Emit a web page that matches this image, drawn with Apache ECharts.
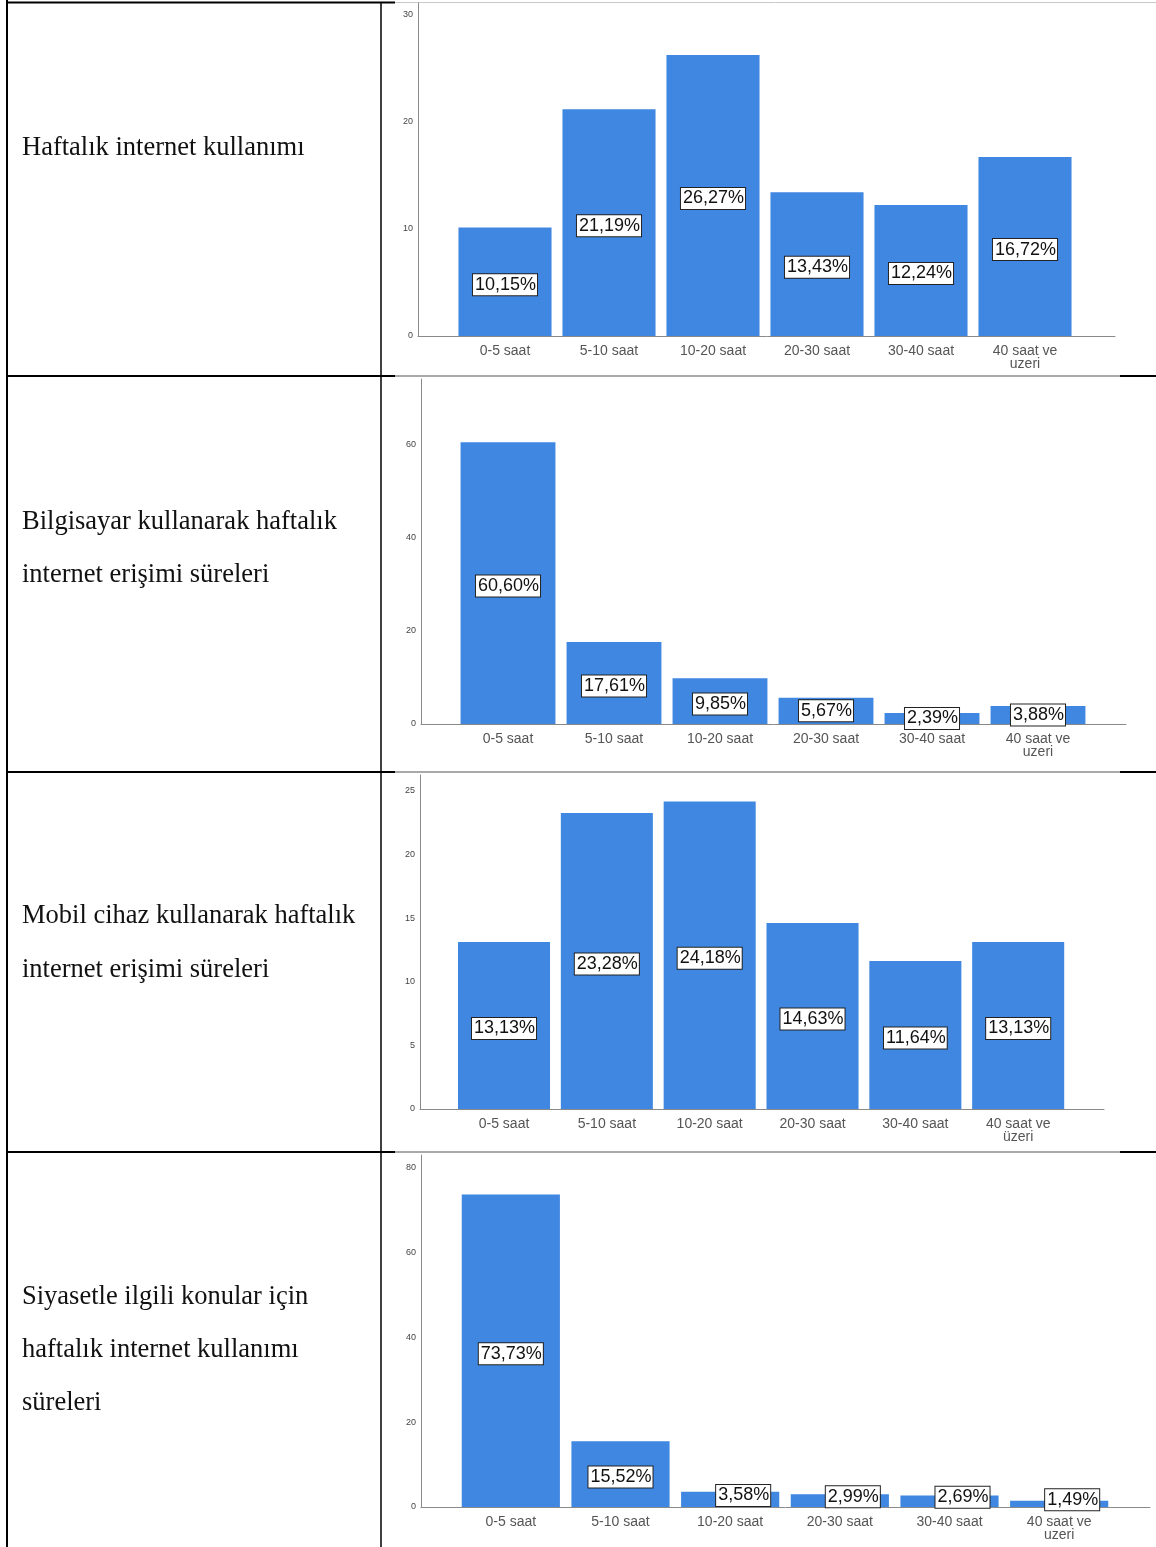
<!DOCTYPE html>
<html><head><meta charset="utf-8">
<script src="https://cdn.jsdelivr.net/npm/echarts@6/dist/echarts.min.js"></script>
<style>html,body{margin:0;padding:0;background:#fff}#c{width:1156px;height:1547px}</style>
</head><body><div id="c"></div>
<script>
// ---- data ----
const categoriesA = ['0-5 saat', '5-10 saat', '10-20 saat', '20-30 saat', '30-40 saat', '40 saat ve\nuzeri'];
const categoriesB = ['0-5 saat', '5-10 saat', '10-20 saat', '20-30 saat', '30-40 saat', '40 saat ve\nüzeri'];
const weeklyInternet = [10.15, 21.19, 26.27, 13.43, 12.24, 16.72];
const computerAccess = [60.60, 17.61, 9.85, 5.67, 2.39, 3.88];
const mobileAccess = [13.13, 23.28, 24.18, 14.63, 11.64, 13.13];
const politicsUse = [73.73, 15.52, 3.58, 2.99, 2.69, 1.49];
const yTicks1 = [0, 10, 20, 30];
const yTicks2 = [0, 20, 40, 60];
const yTicks3 = [0, 5, 10, 15, 20, 25];
const yTicks4 = [0, 20, 40, 60, 80];
const rowTitles = [
  ['Haftalık internet kullanımı'],
  ['Bilgisayar kullanarak haftalık', 'internet erişimi süreleri'],
  ['Mobil cihaz kullanarak haftalık', 'internet erişimi süreleri'],
  ['Siyasetle ilgili konular için', 'haftalık internet kullanımı', 'süreleri']
];

// ---- layout ----
const panels = [
  {cats: categoriesA, vals: weeklyInternet, ticks: yTicks1, axisL: 418, axisR: 1115, barL: 453, barW: 624, top: 3, zero: 336, pxPerUnit: 10.7, shiftSmall: false},
  {cats: categoriesA, vals: computerAccess, ticks: yTicks2, axisL: 421, axisR: 1126, barL: 455, barW: 636, top: 379, zero: 724, pxPerUnit: 4.65, shiftSmall: false},
  {cats: categoriesB, vals: mobileAccess, ticks: yTicks3, axisL: 420, axisR: 1104, barL: 452.6, barW: 617, top: 775, zero: 1109, pxPerUnit: 12.72, shiftSmall: false},
  {cats: categoriesA, vals: politicsUse, ticks: yTicks4, axisL: 421, axisR: 1150, barL: 456, barW: 658, top: 1155, zero: 1507, pxPerUnit: 4.2375, shiftSmall: true}
];
const titleLines = [[148], [522, 575], [916, 970], [1297, 1350, 1403]];

const BAR = '#3f87e0';
const AXIS = '#8a8a8a';
const grids = [], xAxes = [], yAxes = [], series = [];
panels.forEach((p, i) => {
  const h = p.zero - p.top;
  const max = h / p.pxPerUnit;
  const interval = p.ticks[1] - p.ticks[0];
  grids.push({left: p.axisL, top: p.top, width: p.axisR - p.axisL, height: h});
  grids.push({left: p.barL, top: p.top, width: p.barW, height: h});
  const ga = 2 * i, gb = 2 * i + 1;
  xAxes.push({gridIndex: ga, type: 'value', min: 0, max: 1, axisLine: {show: true, onZero: false, lineStyle: {color: AXIS, width: 1}}, axisTick: {show: false}, axisLabel: {show: false}, splitLine: {show: false}});
  yAxes.push({gridIndex: ga, type: 'value', min: 0, max: max, interval: interval,
    axisLine: {show: true, lineStyle: {color: AXIS, width: 1}}, axisTick: {show: false}, splitLine: {show: false},
    axisLabel: {showMaxLabel: false, fontSize: 9, color: '#444', fontFamily: 'Liberation Sans', margin: 5,
      formatter: v => p.ticks.indexOf(v) >= 0 ? String(v) : ''}});
  xAxes.push({gridIndex: gb, type: 'category', data: p.cats, axisLine: {show: false}, axisTick: {show: false},
    axisLabel: {fontSize: 14, color: '#555', fontFamily: 'Liberation Sans', margin: 9, lineHeight: 13, interval: 0}});
  yAxes.push({gridIndex: gb, type: 'value', min: 0, max: max, show: false, splitLine: {show: false}});
  series.push({type: 'bar', xAxisIndex: 2 * i + 1, yAxisIndex: 2 * i + 1, barCategoryGap: '10.5%',
    itemStyle: {color: BAR},
    data: p.vals.map(v => ({value: v, label: (p.shiftSmall && v < 5) ? {offset: [13, -4]} : {offset: [0, v > 8 ? 3 : 0]}})),
    label: {show: true, position: 'inside', fontSize: 18, color: '#111', fontFamily: 'Liberation Sans',
      backgroundColor: '#fff', borderColor: '#222', borderWidth: 1, padding: [2, 1, 1, 2],
      formatter: d => d.value.toFixed(2).replace('.', ',') + '%'}});
});

const graphic = [];
const line = (x1, y1, x2, y2, w, c) => graphic.push({type: 'line', silent: true, shape: {x1, y1, x2, y2}, style: {stroke: c, lineWidth: w}});
line(7, 0, 7, 1547, 2, '#000');
line(381, 2, 381, 1547, 1.5, '#000');
line(6, 2.5, 395, 2.5, 2, '#000');
line(395, 2.5, 1156, 2.5, 1, '#c8c8c8');
[376, 772, 1152].forEach(y => {
  line(6, y, 395, y, 2, '#000');
  line(395, y, 1120, y, 1.2, '#555');
  line(1120, y, 1156, y, 2, '#000');
});
rowTitles.forEach((lines, i) => {
  lines.forEach((t, j) => {
    graphic.push({type: 'text', silent: true, x: 22, y: titleLines[i][j],
      style: {text: t, fill: '#111', font: '26.5px "Liberation Serif"', verticalAlign: 'middle', align: 'left'}});
  });
});

const chart = echarts.init(document.getElementById('c'), null, {renderer: 'canvas'});
chart.setOption({animation: false, backgroundColor: '#fff', grid: grids, xAxis: xAxes, yAxis: yAxes, series, graphic});
</script></body></html>
